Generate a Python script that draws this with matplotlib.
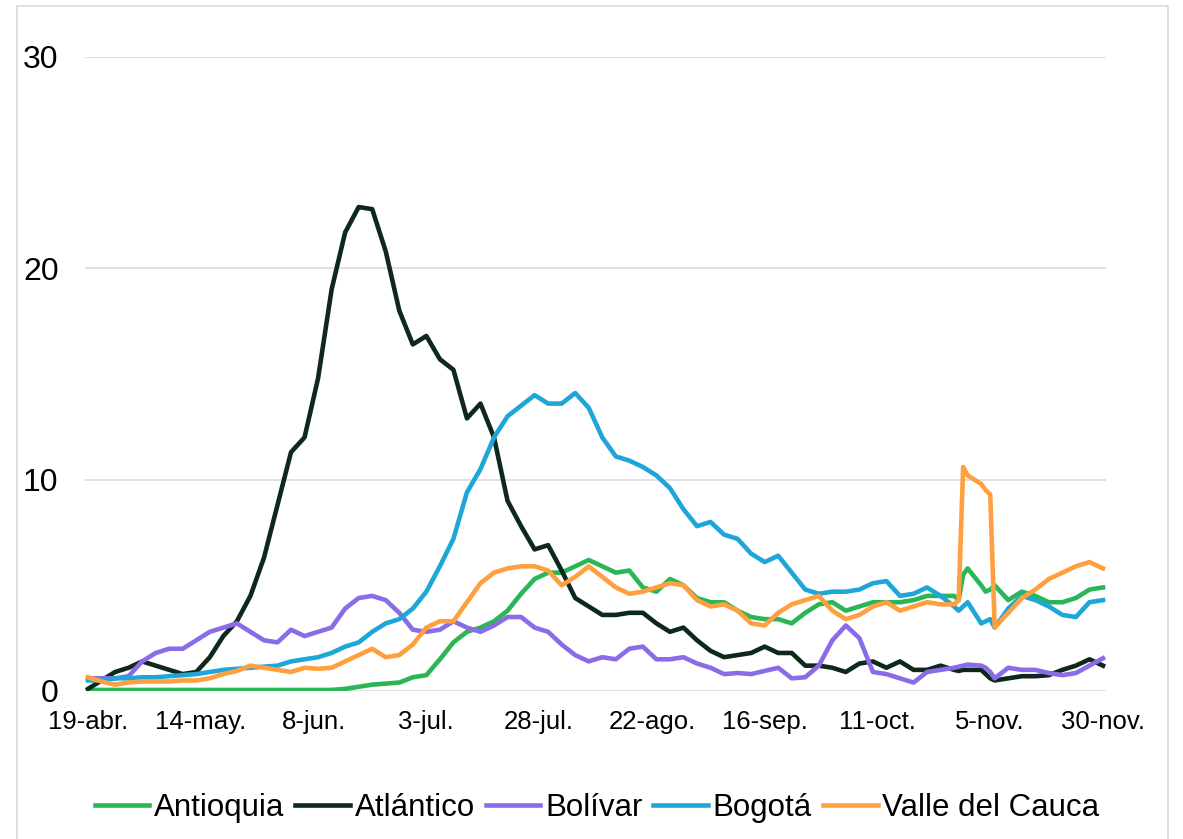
import matplotlib
matplotlib.use('Agg')
import matplotlib.pyplot as plt
from matplotlib.patches import Rectangle

plt.rcParams['font.family'] = ['Liberation Sans', 'DejaVu Sans']

# days counted from 19-abr (2020)
days = [0, 3, 6, 9, 12, 15, 18, 21, 24, 27,
        30, 33, 36, 39, 42, 45, 48, 51, 54, 57,
        60, 63, 66, 69, 72, 75, 78, 81, 84, 87,
        90, 93, 96, 99, 102, 105, 108, 111, 114, 117,
        120, 123, 126, 129, 132, 135, 138, 141, 144, 147,
        150, 153, 156, 159, 162, 165, 168, 171, 174, 177,
        180, 183, 186, 189, 192, 193, 194, 195, 198, 199,
        200, 201, 204, 207, 210, 213, 216, 219, 222, 225]

antioquia = [0.05, 0.05, 0.05, 0.05, 0.05, 0.05, 0.05, 0.05, 0.05, 0.05,
             0.05, 0.05, 0.05, 0.05, 0.05, 0.05, 0.05, 0.05, 0.05, 0.1,
             0.2, 0.3, 0.35, 0.4, 0.65, 0.75, 1.5, 2.3, 2.8, 3.0,
             3.3, 3.8, 4.6, 5.3, 5.6, 5.6, 5.9, 6.2, 5.9, 5.6,
             5.7, 4.9, 4.7, 5.3, 5.0, 4.4, 4.2, 4.2, 3.8, 3.5,
             3.4, 3.4, 3.2, 3.7, 4.1, 4.2, 3.8, 4.0, 4.2, 4.2,
             4.2, 4.3, 4.5, 4.5, 4.5, 4.3, 5.5, 5.8, 5.0, 4.7,
             4.8, 5.0, 4.3, 4.7, 4.5, 4.2, 4.2, 4.4, 4.8, 4.9]

atlantico = [0.1, 0.5, 0.9, 1.1, 1.4, 1.2, 1.0, 0.8, 0.9, 1.6,
             2.6, 3.3, 4.5, 6.3, 8.8, 11.3, 12.0, 14.8, 19.0, 21.7,
             22.9, 22.8, 20.8, 18.0, 16.4, 16.8, 15.7, 15.2, 12.9, 13.6,
             12.0, 9.0, 7.8, 6.7, 6.9, 5.7, 4.4, 4.0, 3.6, 3.6,
             3.7, 3.7, 3.2, 2.8, 3.0, 2.4, 1.9, 1.6, 1.7, 1.8,
             2.1, 1.8, 1.8, 1.2, 1.2, 1.1, 0.9, 1.3, 1.4, 1.1,
             1.4, 1.0, 1.0, 1.2, 1.0, 0.95, 1.0, 1.0, 1.0, 0.8,
             0.6, 0.5, 0.6, 0.7, 0.7, 0.75, 1.0, 1.2, 1.5, 1.2]

bolivar = [0.6, 0.6, 0.6, 0.7, 1.4, 1.8, 2.0, 2.0, 2.4, 2.8,
           3.0, 3.2, 2.8, 2.4, 2.3, 2.9, 2.6, 2.8, 3.0, 3.9,
           4.4, 4.5, 4.3, 3.7, 2.9, 2.8, 2.9, 3.3, 3.0, 2.8,
           3.1, 3.5, 3.5, 3.0, 2.8, 2.2, 1.7, 1.4, 1.6, 1.5,
           2.0, 2.1, 1.5, 1.5, 1.6, 1.3, 1.1, 0.8, 0.85, 0.8,
           0.95, 1.1, 0.6, 0.65, 1.2, 2.4, 3.1, 2.5, 0.9, 0.8,
           0.6, 0.4, 0.9, 1.0, 1.1, 1.15, 1.2, 1.25, 1.2, 1.1,
           0.9, 0.6, 1.1, 1.0, 1.0, 0.85, 0.75, 0.85, 1.2, 1.55]

bogota = [0.5, 0.5, 0.6, 0.6, 0.65, 0.65, 0.7, 0.75, 0.8, 0.9,
          1.0, 1.05, 1.1, 1.15, 1.2, 1.4, 1.5, 1.6, 1.8, 2.1,
          2.3, 2.8, 3.2, 3.4, 3.9, 4.7, 5.9, 7.2, 9.4, 10.5,
          12.0, 13.0, 13.5, 14.0, 13.6, 13.6, 14.1, 13.4, 12.0, 11.1,
          10.9, 10.6, 10.2, 9.6, 8.6, 7.8, 8.0, 7.4, 7.2, 6.5,
          6.1, 6.4, 5.6, 4.8, 4.6, 4.7, 4.7, 4.8, 5.1, 5.2,
          4.5, 4.6, 4.9, 4.5, 4.0, 3.8, 4.0, 4.2, 3.2, 3.3,
          3.4, 3.0, 3.9, 4.5, 4.3, 4.0, 3.6, 3.5, 4.2, 4.3]

valle = [0.65, 0.45, 0.3, 0.4, 0.45, 0.45, 0.45, 0.5, 0.5, 0.6,
         0.8, 0.95, 1.2, 1.1, 1.0, 0.9, 1.1, 1.05, 1.1, 1.4,
         1.7, 2.0, 1.6, 1.7, 2.2, 3.0, 3.3, 3.3, 4.2, 5.1,
         5.6, 5.8, 5.9, 5.9, 5.7, 5.0, 5.4, 5.9, 5.4, 4.9,
         4.6, 4.7, 4.9, 5.1, 5.0, 4.3, 4.0, 4.1, 3.8, 3.2,
         3.1, 3.7, 4.1, 4.3, 4.5, 3.8, 3.4, 3.6, 4.0, 4.2,
         3.8, 4.0, 4.2, 4.1, 4.1, 4.3, 10.6, 10.2, 9.8, 9.5,
         9.3, 3.0, 3.7, 4.4, 4.8, 5.3, 5.6, 5.9, 6.1, 5.8]

series_names = ['Antioquia', 'Atlántico', 'Bolívar', 'Bogotá', 'Valle del Cauca']
series_values = [antioquia, atlantico, bolivar, bogota, valle]
colors = ['#2bb655', '#0e291b', '#8b6ce8', '#1fa6d8', '#ffa040']

tick_days = [0, 25, 50, 75, 100, 125, 150, 175, 200, 225]
tick_labels = ['19-abr.', '14-may.', '8-jun.', '3-jul.', '28-jul.',
               '22-ago.', '16-sep.', '11-oct.', '5-nov.', '30-nov.']

W, H = 1183, 839
fig = plt.figure(figsize=(W / 100, H / 100), dpi=100)
ax = fig.add_axes([85 / W, 1 - 691 / H, (1106 - 85) / W, (691 - 57) / H])

for name, vals, c in zip(series_names, series_values, colors):
    ax.plot(days, vals, color=c, lw=3.3, label=name)

ax.set_xlim(-0.67, 225.67)
ax.set_ylim(0, 30)
ax.set_yticks([0, 10, 20, 30])
ax.set_xticks(tick_days)
ax.set_xticklabels(tick_labels)
ax.tick_params(axis='y', length=0, pad=19, labelsize=23)
ax.tick_params(axis='x', length=0, pad=14, labelsize=18.5)
ax.grid(axis='y', color='#d9d9d9', lw=1.1)
ax.set_axisbelow(True)
for s in ax.spines.values():
    s.set_visible(False)

fig.legend(loc='center', bbox_to_anchor=(597 / W, 1 - 808 / H), ncol=5,
           frameon=False, fontsize=22.5, handlelength=1.75, handletextpad=0.15,
           columnspacing=0.35)

fig.patches.append(Rectangle((17 / W, -0.01), (1168 - 17) / W, 1 - 6 / H + 0.01,
                             transform=fig.transFigure, fill=False,
                             edgecolor='#d9d9d9', lw=1.2))

fig.savefig('out.png', dpi=100)
